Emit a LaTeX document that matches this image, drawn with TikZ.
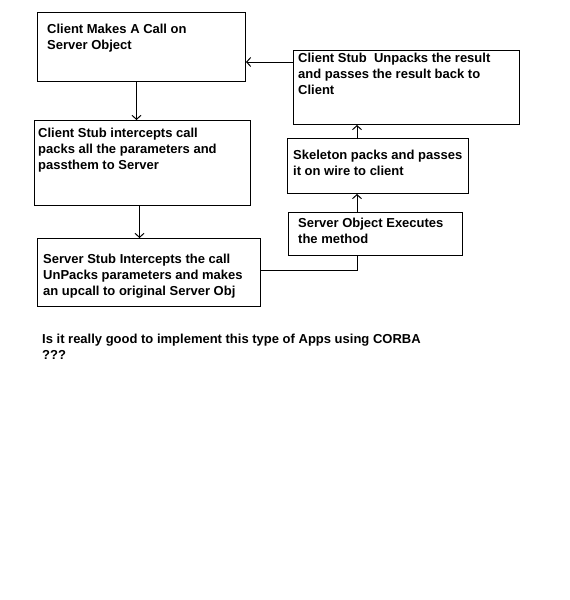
\documentclass[tikz,border=0pt]{standalone}
\usepackage{fontspec}
\setmainfont{Liberation Sans}
\usetikzlibrary{arrows.meta}

\tikzset{
  stepbox/.style={draw, line width=1pt, anchor=north west, inner sep=0pt},
  boxtext/.style={anchor=north west, align=left, inner sep=0pt,
    font=\bfseries\fontsize{13}{16}\selectfont},
  flow/.style={line width=1pt, -{Straight Barb[length=4pt,width=9pt]}},
}

\begin{document}
\begin{tikzpicture}[x=1pt,y=-1pt]
\useasboundingbox (0,0) rectangle (570,600);

% The boxes of the call path, left column down, right column up.
\node[stepbox, minimum width=208pt, minimum height=69pt] (call) at (37,12) {};
\node[stepbox, minimum width=216pt, minimum height=85pt] (cstub) at (34,120) {};
\node[stepbox, minimum width=223pt, minimum height=68pt] (sstub) at (37,238) {};
\node[stepbox, minimum width=174pt, minimum height=43pt] (exec) at (288,212) {};
\node[stepbox, minimum width=181pt, minimum height=55pt] (skel) at (287,138) {};
\node[stepbox, minimum width=226pt, minimum height=74pt] (unpack) at (293,50) {};

% Texts of the boxes.
\node[boxtext] (tcall) at (47,24) {Client Makes A Call on\\Server Object};
\node[boxtext] (tcstub) at (38,128) {Client Stub intercepts call\\packs all the parameters and\\passthem to Server};
\node[boxtext] (tsstub) at (43,254) {Server Stub Intercepts the call\\UnPacks parameters and makes\\an upcall to original Server Obj};
\node[boxtext] (texec) at (298,218) {Server Object Executes\\the method};
\node[boxtext] (tskel) at (293,150) {Skeleton packs and passes\\it on wire to client};
\node[boxtext] (tunpack) at (298,53) {Client Stub\ \ Unpacks the result\\and passes the result back to\\Client};

\node[boxtext] (question) at (42,334) {Is it really good to implement this type of Apps using CORBA\\???};

% Connectors.
\coordinate (up) at (357,0);
\coordinate (back) at (0,62);
\draw[flow] ([xshift=-5pt]call.south) -- ([xshift=-5pt]call.south |- cstub.north);
\draw[flow] ([xshift=-3pt]cstub.south) -- ([xshift=-3pt]cstub.south |- sstub.north);
\draw[line width=1pt] ([yshift=2pt]sstub.east) -| (up |- exec.south);
\draw[flow] (up |- exec.north) -- (up |- skel.south);
\draw[flow] (up |- skel.north) -- (up |- unpack.south);
\draw[flow] (unpack.west |- back) -- (call.east |- back);

\end{tikzpicture}
\end{document}
